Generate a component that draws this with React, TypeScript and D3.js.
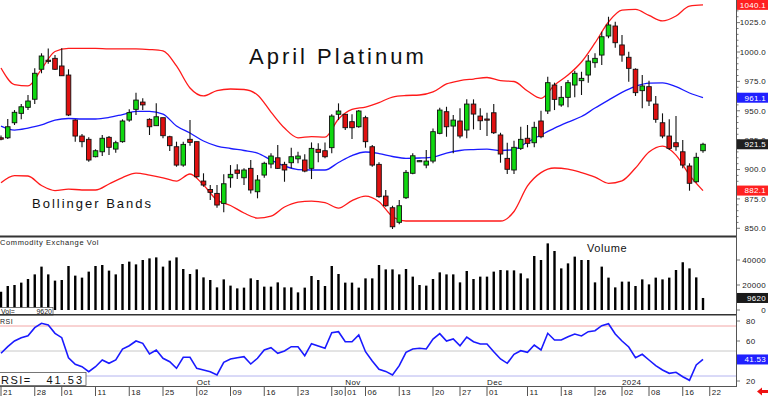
import * as d3 from "d3";
import { useEffect } from "react";

const W = 768;
const H = 396;
const RIGHT = 736;
const FONT = "'Liberation Sans', Arial, sans-serif";

// daily sessions Aug 21 2023 .. Jan 19 2024
const opens = [
  927, 927, 939.8, 947.8, 952.9, 959.8, 985.3, 993, 994.6, 988.1,
  980.4, 942.1, 928.5, 925.7, 910.9, 915.1, 927.4, 917.4, 923.7, 942.1,
  951.2, 957.4, 942.7, 937.3, 944.1, 927.9, 919.4, 903.8, 925.7, 923.7,
  890.2, 883.0, 879.7, 871.2, 893.0, 899.6, 893.0, 901.0, 881.1, 895.3,
  904.7, 910.0, 904.4, 905.8, 909.1, 908.1, 901.0, 917.2, 916.0, 918.6,
  947.0, 947.0, 940.7, 936.4, 944.1, 919.4, 904.4, 877.4, 867.5, 855.1,
  876.0, 896.8, 907.2, 903.8, 907.2, 930.8, 949.2, 937.0, 941.3, 933.6,
  955.7, 945.5, 943.0, 948.3, 929.4, 909.5, 899.6, 918.0, 926.6, 922.8,
  941.3, 949.8, 971.9, 954.9, 961.4, 971.9, 975.6, 980.4, 990.9, 997.4,
  1013.6, 1022.1, 1006.0, 995.5, 985.3, 967.1, 970.5, 955.7, 939.8, 928.5,
  922.8, 915.1, 903.0, 889.6, 916.0,
];
const highs = [
  929, 943, 950.6, 955.7, 963.4, 986.1, 998.9, 1003, 997.4, 1003.1,
  985.3, 942.7, 930.2, 927.4, 917.2, 929.4, 928.5, 924.5, 942.7, 951.2,
  965.4, 960.6, 943.6, 956.3, 944.1, 928.8, 923.7, 923.7, 942.1, 923.7,
  896.8, 886.8, 886.8, 895.9, 903.8, 904.4, 901.0, 908.1, 895.3, 906.6,
  913.8, 920.9, 906.6, 918.6, 915.1, 912.9, 923.1, 922.3, 923.1, 947.0,
  956.3, 947.5, 947.0, 950.6, 945.8, 920.9, 906.1, 882.6, 869.2, 874.0,
  899.6, 913.8, 908.0, 916.6, 935.0, 952.6, 953.4, 946.4, 952.1, 959.7,
  959.7, 952.1, 948.3, 955.7, 931.3, 922.8, 924.5, 936.4, 937.9, 940.7,
  950.0, 979.0, 973.9, 971.1, 976.2, 984.1, 983.2, 997.4, 998.9, 1017.3,
  1030.0, 1025.8, 1014.5, 1000.3, 986.1, 980.4, 975.6, 962.6, 947.8, 942.7,
  945.5, 925.1, 905.3, 914.3, 922.8,
];
const lows = [
  925, 926, 937.9, 942.7, 950.6, 955.7, 981.9, 990, 984.7, 979.8,
  945.5, 923.7, 918.9, 906.6, 910.4, 911.5, 912.3, 914.3, 922.8, 940.7,
  946.4, 950.6, 929.4, 937.3, 926.6, 915.7, 902.4, 902.4, 920.3, 893.0,
  885.4, 874.0, 867.5, 863.6, 884.5, 891.9, 886.8, 879.7, 875.5, 893.0,
  901.0, 900.5, 889.6, 901.0, 905.3, 897.6, 891.9, 906.1, 909.5, 913.8,
  942.1, 933.6, 926.0, 935.6, 918.6, 902.4, 876.0, 868.3, 849.4, 853.4,
  874.9, 895.9, 906.8, 901.0, 905.3, 930.0, 927.9, 913.8, 926.6, 926.6,
  934.2, 933.6, 928.5, 930.2, 905.8, 896.2, 896.2, 916.6, 918.9, 918.9,
  926.6, 947.2, 950.6, 953.4, 952.9, 961.4, 963.4, 973.9, 986.6, 988.9,
  1011.7, 1003.7, 991.7, 974.7, 962.6, 952.1, 954.0, 939.8, 926.6, 916.6,
  916.0, 901.0, 882.0, 888.8, 914.3,
];
const closes = [
  925.8, 936.4, 948.7, 953.4, 958.3, 981.9, 996.6, 992, 985.3, 979.8,
  946.4, 928.5, 923.7, 908.1, 916.0, 926.6, 918.9, 922.8, 941.3, 948.4,
  959.1, 955.0, 936.4, 944.9, 928.8, 920.3, 903.8, 921.4, 923.1, 893.9,
  886.8, 880.6, 869.8, 887.9, 895.9, 896.8, 899.6, 882.6, 891.1, 905.3,
  911.5, 901.0, 899.6, 910.9, 911.5, 898.7, 918.0, 914.6, 910.9, 945.5,
  949.8, 935.6, 935.6, 949.8, 923.7, 903.8, 876.9, 869.2, 851.3, 869.2,
  897.6, 911.7, 907.6, 907.2, 932.2, 950.6, 936.4, 942.1, 928.5, 955.7,
  947.2, 941.5, 942.7, 931.3, 913.2, 900.2, 918.9, 925.7, 922.3, 935.9,
  927.9, 973.9, 959.7, 961.4, 973.9, 981.9, 977.6, 992.3, 994.6, 1013.0,
  1023.0, 1007.9, 997.4, 986.1, 965.4, 971.1, 958.3, 942.7, 928.5, 918.0,
  919.4, 903.8, 888.3, 910.4, 921.5,
];
const volumes = [
  14600, 19200, 20000, 21900, 24800, 28500, 34700, 28500, 23500, 24000,
  35200, 27500, 25900, 30700, 35200, 36000, 31500, 28500, 36800, 38700,
  36500, 40000, 41300, 42100, 34700, 39500, 42100, 32800, 28800, 32500,
  26100, 24000, 18100, 24500, 19500, 17300, 17900, 25300, 24000, 18700,
  18700, 22100, 18100, 18100, 14100, 17900, 27200, 24000, 19200, 35200,
  28800, 21900, 21900, 17900, 25300, 25300, 36000, 32500, 32500, 28500,
  32800, 26700, 20000, 19500, 24800, 30100, 28500, 28500, 22100, 31200,
  24800, 26700, 26700, 30700, 32000, 31700, 31700, 29300, 25300, 43200,
  40000, 53300, 47200, 33300, 37300, 42700, 40000, 40000, 22100, 34700,
  25900, 18100, 22700, 22700, 19200, 24500, 20500, 25900, 24500, 25900,
  32000, 38200, 33300, 26100, 9620,
];
const rsi = [
  47.7, 54.3, 60, 63.3, 65.3, 73.3, 77.7, 76, 67.7, 63.3,
  43.3, 36.7, 34.3, 29.3, 34.3, 41, 37.7, 41, 52, 55.3,
  60, 57.7, 47, 51, 42.7, 39.3, 32.7, 43.7, 43.7, 32.7,
  31, 29.3, 26, 38.7, 42, 43.3, 44.3, 37, 42.7, 51,
  53.3, 47.7, 50, 54.3, 54.3, 45.3, 57.3, 55, 52.7, 68.3,
  69.3, 59.3, 59.3, 66, 49.3, 40, 31.7, 29.6, 26, 35.3,
  48.7, 52, 52.7, 52, 62, 67.3, 60, 62, 55.3, 64,
  59.3, 57, 57, 49.3, 42, 37.7, 46.7, 50.3, 48.7, 56,
  51, 67.7, 61, 61, 64.3, 67, 65, 69.3, 70.3, 75.3,
  77.3, 67, 60, 54, 43.3, 46.7, 41, 35.3, 31, 27.7,
  28.7, 24.3, 20.7, 36, 41.53,
];

// bollinger bands, read every other session
const BAND_STEP = 2;
const upperBand = [
  986.4, 972.3, 971.1, 985.5, 1000.4, 1003.0, 1003.0, 1003.0, 1002.6, 1002.6,
  1002.6, 1002.1, 1000.9, 988.1, 969.4, 962.6, 967.2, 968.5, 968.1, 963.4,
  948.9, 935.3, 927.0, 928.0, 927.5, 943.0, 951.1, 953.2, 957.0, 961.7,
  963.0, 963.4, 966.0, 972.8, 975.6, 977.0, 978.3, 975.7, 974.9, 966.8,
  960.6, 971.9, 980.4, 991.5, 1007.7, 1025.5, 1035.7, 1036.2, 1031.1, 1026.4,
  1030.6, 1039.1, 1040.1,
];
const midBand = [
  937.0, 933.6, 935.3, 937.9, 942.1, 943.4, 943.0, 943.0, 944.3, 946.8,
  949.4, 949.4, 947.2, 937.0, 931.1, 924.3, 920.0, 917.9, 916.2, 914.0,
  908.1, 903.0, 900.0, 899.6, 899.6, 906.0, 911.9, 914.9, 913.6, 911.1,
  909.5, 909.8, 910.6, 914.0, 916.2, 917.0, 917.4, 916.2, 917.0, 923.4,
  929.4, 935.3, 940.4, 945.1, 952.3, 959.1, 965.7, 970.8, 973.6, 973.8,
  970.6, 965.1, 961.1,
];
const lowerBand = [
  888.8, 894.9, 894.5, 886.4, 882.1, 883.4, 882.6, 882.6, 887.7, 893.2,
  897.0, 895.3, 893.0, 890.2, 896.2, 886.8, 874.0, 869.4, 863.0, 858.7,
  860.4, 868.1, 872.3, 873.2, 871.9, 867.2, 873.6, 877.4, 872.6, 860.0,
  856.2, 856.2, 856.2, 856.2, 856.2, 856.2, 856.2, 856.2, 864.3, 886.0,
  897.4, 901.3, 900.4, 897.4, 893.6, 888.3, 890.4, 901.3, 914.9, 920.0,
  912.3, 895.3, 882.1,
];

const tickIdx = [0, 5, 9, 14, 19, 24, 29, 34, 39, 44, 49, 51, 54, 59, 64, 68, 72, 78, 83, 88, 92, 96, 101, 105];
const tickText = ["21", "28", "01", "11", "18", "25", "02", "09", "16", "23", "30", "01", "06", "13", "20", "27", "01", "11", "18", "26", "02", "08", "16", "22"];
const monthIdx = [29, 51, 72, 92];
const monthText = ["Oct", "Nov", "Dec", "2024"];

const priceTicks = [850, 875, 900, 925, 950, 975, 1000, 1025];
const volTicks = [0, 20000, 40000];
const rsiTicks = [20, 60, 80];
const rsiLevels = [75, 50, 25];
const rsiLevelColors = ["#f2a6a6", "#c8c8c8", "#b4b4f0"];

const UP = "#10d810";
const DOWN = "#e01010";

export default function App() {
  useEffect(() => {
    document.body.style.margin = "0";
  }, []);

  const x = d3.scaleLinear().domain([0, 105]).range([1, 709.75]);
  const yP = d3.scaleLinear().domain([850, 1000]).range([228.3, 52]);
  const yV = d3.scaleLinear().domain([0, 40000]).range([310, 260]);
  const yR = d3.scaleLinear().domain([20, 80]).range([381, 321]);

  const band = d3
    .line<number>()
    .x((_, k) => x(k * BAND_STEP))
    .y((v) => yP(v))
    .curve(d3.curveMonotoneX);
  const rsiLine = d3
    .line<number>()
    .x((_, i) => x(i))
    .y((v) => yR(v));

  const last = closes.length - 1;
  const priceFlags = [
    { v: upperBand[upperBand.length - 1], fill: "#ff2020", text: "1040.1" },
    { v: midBand[midBand.length - 1], fill: "#2020ff", text: "961.1" },
    { v: closes[last], fill: "#202020", text: "921.5" },
    { v: lowerBand[lowerBand.length - 1], fill: "#ff2020", text: "882.1" },
  ];

  const bw = 4.6;

  return (
    <svg width={W} height={H} style={{ display: "block", background: "#fff" }} fontFamily={FONT}>
      <defs>
        <clipPath id="pricePanel">
          <rect x={0} y={0} width={RIGHT} height={236} />
        </clipPath>
      </defs>

      {/* price panel */}
      <g clipPath="url(#pricePanel)">
        <path d={band(upperBand) ?? ""} fill="none" stroke="#ff1a1a" strokeWidth={1.3} />
        <path d={band(lowerBand) ?? ""} fill="none" stroke="#ff1a1a" strokeWidth={1.3} />
        <path d={band(midBand) ?? ""} fill="none" stroke="#1a1aff" strokeWidth={1.3} />
        {closes.map((c, i) => {
          const o = opens[i];
          const top = yP(Math.max(o, c));
          const bot = yP(Math.min(o, c));
          return (
            <g key={i}>
              <line x1={x(i)} x2={x(i)} y1={yP(highs[i])} y2={yP(lows[i])} stroke="#111" strokeWidth={1.1} />
              <rect
                x={x(i) - bw / 2}
                y={top}
                width={bw}
                height={Math.max(bot - top, 1.2)}
                fill={c >= o ? UP : DOWN}
                stroke="#111"
                strokeWidth={0.9}
              />
            </g>
          );
        })}
      </g>
      <text x={249} y={64} fontSize={22} letterSpacing={3} fill="#111">April Platinum</text>
      <text x={32} y={208} fontSize={13} letterSpacing={2} fill="#111">Bollinger Bands</text>

      {/* volume panel */}
      <line x1={0} x2={RIGHT} y1={236.5} y2={236.5} stroke="#333" strokeWidth={2} />
      <text x={0} y={245} fontSize={7.5} letterSpacing={0.6} fill="#222">Commodity Exchange Vol</text>
      <text x={587} y={252} fontSize={11} letterSpacing={0.6} fill="#111">Volume</text>
      {volumes.map((v, i) => (
        <rect key={i} x={x(i) - 1.2} y={yV(v)} width={2.4} height={yV(0) - yV(v)} fill="#000" />
      ))}
      <rect x={-1} y={307.5} width={54} height={7.5} fill="#fff" stroke="#555" strokeWidth={0.8} />
      <text x={1} y={314} fontSize={7} fill="#222">Vol=</text>
      <text x={52} y={314} fontSize={7} fill="#222" textAnchor="end">9620</text>

      {/* rsi panel */}
      <line x1={0} x2={RIGHT} y1={314.8} y2={314.8} stroke="#333" strokeWidth={1.6} />
      <text x={0} y={324} fontSize={7} letterSpacing={0.5} fill="#222">RSI</text>
      {rsiLevels.map((lv, k) => (
        <line key={lv} x1={0} x2={RIGHT} y1={yR(lv)} y2={yR(lv)} stroke={rsiLevelColors[k]} strokeWidth={1} />
      ))}
      <path d={rsiLine(rsi) ?? ""} fill="none" stroke="#1a1aff" strokeWidth={1.6} />

      {/* date axis */}
      <line x1={0} x2={RIGHT} y1={386.5} y2={386.5} stroke="#555" strokeWidth={1} />
      {monthIdx.map((m, k) => (
        <text key={m} x={x(m)} y={385} fontSize={8} letterSpacing={0.4} fill="#222">{monthText[k]}</text>
      ))}
      {tickIdx.map((t, k) => (
        <g key={k}>
          <line x1={x(t)} x2={x(t)} y1={387} y2={396} stroke="#555" strokeWidth={1} />
          <text x={x(t) + 2} y={394.5} fontSize={8} letterSpacing={0.3} fill="#222">{tickText[k]}</text>
        </g>
      ))}
      <rect x={-1} y={372.5} width={87} height={13} fill="#fff" stroke="#555" strokeWidth={0.8} />
      <text x={1} y={383.5} fontSize={11} letterSpacing={1.5} fill="#111">RSI=</text>
      <text x={84} y={383.5} fontSize={11} letterSpacing={2} fill="#111" textAnchor="end">41.53</text>

      {/* right axis */}
      <line x1={RIGHT + 0.5} x2={RIGHT + 0.5} y1={0} y2={387} stroke="#555" strokeWidth={1} />
      {d3.range(850, 1041, 5).map((v) => (
        <line key={v} x1={RIGHT} x2={RIGHT + (v % 25 === 0 ? 4 : 2.5)} y1={yP(v)} y2={yP(v)} stroke="#555" strokeWidth={0.8} />
      ))}
      {priceTicks.map((v) => (
        <text key={v} x={766} y={yP(v)} dy="0.35em" fontSize={8} letterSpacing={0.3} fill="#222" textAnchor="end">
          {v.toFixed(1)}
        </text>
      ))}
      {priceFlags.map((f) => (
        <g key={f.text}>
          <rect x={RIGHT + 1} y={yP(f.v) - 5} width={31} height={10} fill={f.fill} />
          <text x={766} y={yP(f.v)} dy="0.35em" fontSize={8} letterSpacing={0.3} fill="#fff" textAnchor="end">
            {f.text}
          </text>
        </g>
      ))}
      {volTicks.map((v) => (
        <g key={v}>
          <line x1={RIGHT} x2={RIGHT + 4} y1={yV(v)} y2={yV(v)} stroke="#555" strokeWidth={0.8} />
          <text x={766} y={yV(v)} dy="0.35em" fontSize={8} letterSpacing={0.3} fill="#222" textAnchor="end">{v}</text>
        </g>
      ))}
      <rect x={RIGHT + 1} y={yV(volumes[last]) - 5} width={31} height={10} fill="#1a1a1a" />
      <text x={766} y={yV(volumes[last])} dy="0.35em" fontSize={8} letterSpacing={0.3} fill="#fff" textAnchor="end">
        {volumes[last]}
      </text>
      {rsiTicks.map((v) => (
        <g key={v}>
          <line x1={RIGHT} x2={RIGHT + 4} y1={yR(v)} y2={yR(v)} stroke="#555" strokeWidth={0.8} />
          <text x={746} y={yR(v)} dy="0.35em" fontSize={8} letterSpacing={0.3} fill="#222">{v}</text>
        </g>
      ))}
      <line x1={RIGHT} x2={RIGHT + 4} y1={yR(40)} y2={yR(40)} stroke="#555" strokeWidth={0.8} />
      <rect x={RIGHT + 1} y={yR(rsi[last]) - 5} width={31} height={10} fill="#2020ff" />
      <text x={766} y={yR(rsi[last])} dy="0.35em" fontSize={8} letterSpacing={0.3} fill="#fff" textAnchor="end">
        {rsi[last].toFixed(2)}
      </text>
      <polygon points="757,391.5 762,387.5 762,390 768,390 768,393 762,393 762,395.5" fill="#ee1111" />
    </svg>
  );
}
